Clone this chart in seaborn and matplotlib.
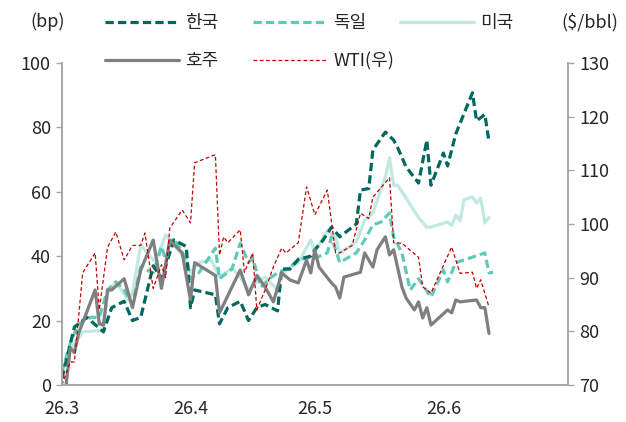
import numpy as np
import pandas as pd
import matplotlib
matplotlib.use("Agg")
import matplotlib.pyplot as plt
import seaborn as sns

# x = days since 2026-03-01
kor_days = [0, 3, 6, 10, 12, 15, 17, 19, 22, 24, 27, 30, 31, 32, 37, 38, 40, 43, 45, 47, 49, 52, 53, 55,
            57, 60, 61, 63, 65, 67, 68, 71, 72, 74, 75, 78, 80, 81, 83, 86, 88, 89, 92, 93, 95, 99, 100,
            102, 103]
kor_vals = [2, 18, 21, 16.5, 24, 26, 20, 21, 37, 33, 45, 43, 24, 29.5, 28, 19, 24, 26, 20, 24, 25, 23, 36,
            36, 39, 40, 42, 45, 49, 46, 47, 50, 60.5, 61, 73, 78.5, 76, 73.6, 67.7, 62.7, 76, 62, 72, 68,
            78, 90.7, 82, 84, 75.5]

ger_days = [0, 2, 4, 7, 9, 11, 13, 15, 17, 19, 22, 24, 25, 27, 30, 31, 33, 37, 38, 41, 43, 45, 46, 48,
            50, 52, 55, 57, 60, 61, 64, 65, 67, 68, 71, 73, 75, 77, 79, 80, 82, 84, 86, 89, 92, 93, 95,
            97, 102, 103, 104]
ger_vals = [4, 13, 19, 21, 21, 29.5, 32, 29.5, 25, 36.6, 34.8, 43, 39, 45.6, 39, 33, 34.8, 42.5, 33, 36,
            44, 38, 39.4, 30.4, 33, 34.8, 36.6, 38.8, 39.8, 39.4, 41, 46, 38, 38.8, 41, 45, 49.7, 50.6,
            53.4, 46, 41, 29.5, 33, 27.3, 35.7, 32, 38, 38.8, 41, 34.8, 35]

usa_days = [0, 2, 5, 10, 11, 13, 16, 17, 19, 22, 23, 25, 30, 31, 33, 36, 38, 41, 43, 45, 47, 49, 52, 53,
            57, 60, 61, 64, 66, 67, 71, 73, 75, 78, 79, 80, 81, 86, 88, 89, 93, 94, 95, 96, 97, 99, 100,
            101, 102, 103]
usa_vals = [4.7, 10.9, 16.5, 17, 28.6, 32, 26.4, 28.6, 43.5, 38.8, 39.7, 46.6, 38.8, 34.8, 38, 38.8,
            33.5, 36.3, 33.5, 29.5, 32, 33.5, 29.5, 34.8, 38, 45, 41.3, 48, 46, 41, 44.4, 51.2, 53.4,
            64.6, 70.5, 62, 62, 52, 49, 49, 50.6, 49.5, 52.8, 51, 57.5, 58.4, 56.5, 58, 50.3, 52]

aus_days = [1, 2, 3, 4, 8, 9, 10, 11, 12, 15, 17, 19, 22, 24, 26, 29, 31, 32, 37, 38, 41, 43, 45, 47,
            49, 51, 53, 55, 57, 59, 60, 61, 62, 65, 66, 67, 68, 72, 73, 75, 76, 78, 79, 80, 82, 83, 85,
            86, 87, 88, 89, 93, 94, 95, 96, 100, 101, 102, 103]
aus_vals = [0, 11.5, 10, 16, 29.5, 19, 18.6, 29.5, 29.5, 33, 24, 35.7, 45, 30, 45, 41, 26.4, 38, 34,
            22.4, 30.4, 35.7, 28, 34, 30.4, 25.8, 34.8, 32.6, 31.7, 38.8, 34.8, 42, 36.6, 31.7, 30.4,
            27, 33.5, 35, 41, 36.6, 42, 46, 40.4, 42, 30.4, 27, 23.3, 25.8, 20.8, 24, 18.6, 23.3, 22.4,
            26.4, 25.8, 26.4, 24, 24, 16]

wti_days = [0, 2, 3, 5, 8, 9, 11, 13, 15, 17, 19, 20, 22, 24, 25, 26, 29, 31, 32, 37, 38, 39, 40, 43,
            44, 46, 47, 49, 51, 53, 54, 57, 59, 61, 64, 66, 67, 70, 72, 74, 75, 79, 80, 82, 86, 87, 89,
            94, 96, 99, 100, 101, 103]
wti_vals = [70, 74.3, 74.3, 90.9, 94.6, 84, 95.7, 98.5, 93.3, 96, 96, 98.3, 88, 92.4, 90, 99.2, 102.6,
            100.2, 111.4, 112.9, 94.2, 97.6, 96.5, 98.9, 91, 94.6, 84, 87.7, 92, 95.5, 94.6, 96.5, 106.9,
            101.7, 106.3, 94.6, 94.6, 96, 102, 101, 105, 108.6, 96.5, 96.4, 93.8, 88.3, 87.1, 95.7, 90.8,
            91, 88, 89.6, 84.5]

month_ticks = [0, 31, 61, 92, 122]
month_labels = ["26.3", "26.4", "26.5", "26.6", ""]

sns.set_theme(style="white")
plt.rcParams["font.family"] = ["Noto Sans CJK KR", "DejaVu Sans"]
TXT = "#262626"
SPINE = "#a6a6a6"
FS = 13

fig = plt.figure(figsize=(6.26, 4.22), dpi=100)
ax = fig.add_axes([0.099, 0.0877, 0.808, 0.7633])
ax2 = ax.twinx()

sns.lineplot(x=usa_days, y=usa_vals, ax=ax, color="#bfe9e1", lw=2.3, label="미국")
sns.lineplot(x=ger_days, y=ger_vals, ax=ax, color="#5fcab9", lw=2.3,
             linestyle=(0, (2.6, 1.3)), label="독일")
sns.lineplot(x=kor_days, y=kor_vals, ax=ax, color="#00695f", lw=2.3,
             linestyle=(0, (2.6, 1.3)), label="한국")
sns.lineplot(x=aus_days, y=aus_vals, ax=ax, color="#7f7f7f", lw=2.3, label="호주")
sns.lineplot(x=wti_days, y=wti_vals, ax=ax2, color="#c00000", lw=0.9,
             linestyle=(0, (3, 2)), label="WTI(우)")

ax.set_xlim(0, 122)
ax.set_ylim(0, 100)
ax2.set_ylim(70, 130)
ax.set_xticks(month_ticks)
ax.set_xticklabels(month_labels)
ax.set_yticks(np.arange(0, 101, 20))
ax2.set_yticks(np.arange(70, 131, 10))

for a in (ax, ax2):
    for s in a.spines.values():
        s.set_color(SPINE)
        s.set_linewidth(1.2)
    a.spines["top"].set_visible(False)
    a.tick_params(colors=TXT, labelsize=FS, length=4, width=1, color=SPINE, direction="out")
    a.grid(False)
    a.set_xlabel("")
    a.set_ylabel("")
ax.tick_params(axis="x", pad=7)
ax.tick_params(axis="y", left=True, pad=4)
ax2.tick_params(axis="y", right=True, pad=4)

handles = {}
for a in (ax, ax2):
    h, l = a.get_legend_handles_labels()
    handles.update(dict(zip(l, h)))
    if a.get_legend() is not None:
        a.get_legend().remove()

cols = [(["한국", "호주"], 105), (["독일", "WTI(우)"], 253), (["미국"], 400)]
for labels, xpx in cols:
    fig.legend([handles[k] for k in labels], labels, loc="upper left",
               bbox_to_anchor=(xpx / 626, 1 - 14 / 422), frameon=False, fontsize=FS,
               handlelength=4.1, handletextpad=0.35, borderpad=0, borderaxespad=0,
               labelspacing=1.1, labelcolor=TXT)

fig.text(30 / 626, 1 - 22 / 422, "(bp)", fontsize=FS, color=TXT, ha="left", va="center")
fig.text(618 / 626, 1 - 22 / 422, "($/bbl)", fontsize=FS, color=TXT, ha="right", va="center")

fig.savefig("out.png", dpi=100)
